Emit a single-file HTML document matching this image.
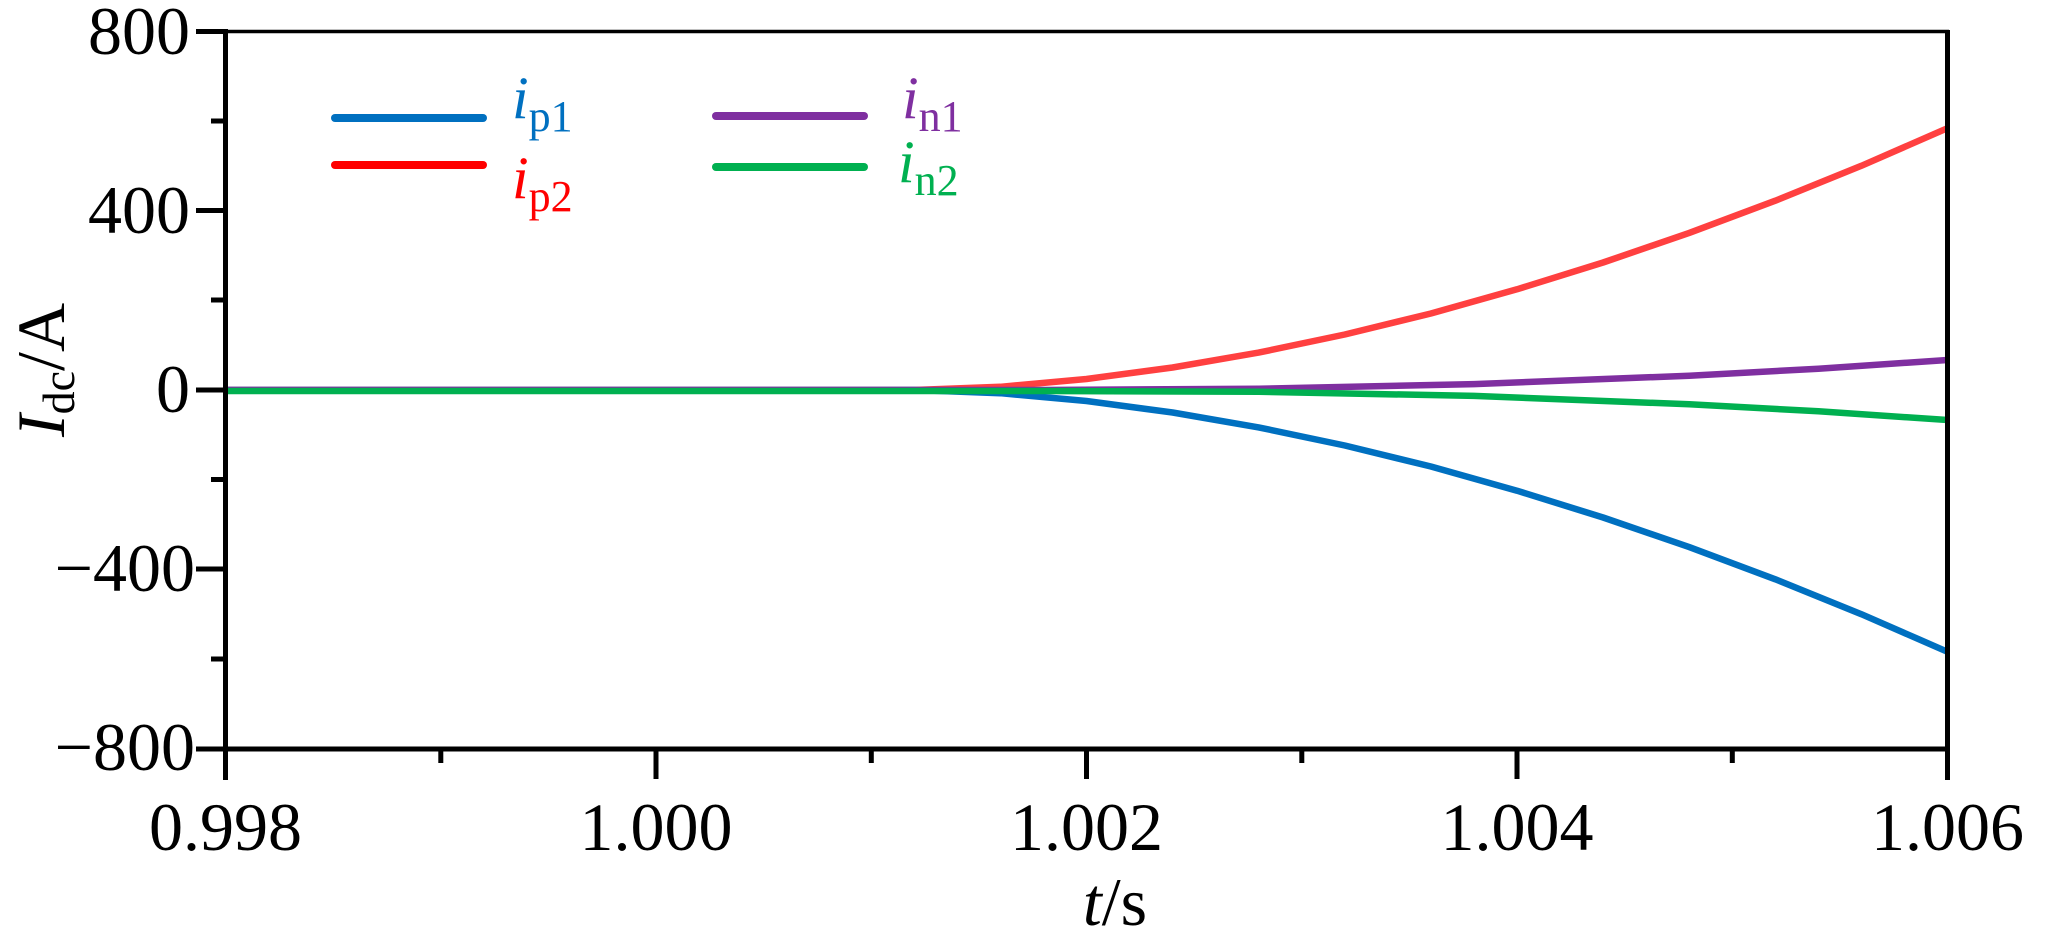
<!DOCTYPE html>
<html><head><meta charset="utf-8"><style>html,body{margin:0;padding:0;background:#fff;}svg{display:block;}text{font-family:"Liberation Serif","Times New Roman",serif;}</style></head>
<body>
<svg width="2068" height="943" viewBox="0 0 2068 943" xmlns="http://www.w3.org/2000/svg">
<rect width="2068" height="943" fill="#fff"/>
<g fill="none" stroke-width="6.5" stroke-linejoin="round">
<path stroke="#FF4040" d="M225.5,390 L914.3,390 L1000.4,386.8 L1086.5,379.0 L1172.6,367.5 L1258.7,352.6 L1344.8,334.5 L1430.9,313.5 L1517,289.3 L1603.1,262.5 L1689.2,232.9 L1775.3,200.7 L1861.4,165.8 L1947.5,128.2"/>
<path stroke="#0070C0" d="M225.5,390 L914.3,390 L1000.4,393.2 L1086.5,401.0 L1172.6,412.5 L1258.7,427.4 L1344.8,445.5 L1430.9,466.5 L1517,490.7 L1603.1,517.5 L1689.2,547.1 L1775.3,579.3 L1861.4,614.2 L1947.5,651.8"/>
<path stroke="#7F2FA0" d="M225.5,390 L1043.5,390 L1258.8,388.7 L1474,384.1 L1689.3,375.7 L1818.4,368.7 L1947.5,360"/>
<path stroke="#00B050" d="M225.5,391 L1043.5,391 L1258.8,391.8 L1474,395.9 L1689.3,404.3 L1818.4,411.3 L1947.5,420"/>
</g>
<g stroke="#000" fill="none">
<line x1="196" y1="31.5" x2="1949" y2="31.5" stroke-width="3.5"/>
<line x1="225.5" y1="29" x2="225.5" y2="780" stroke-width="5"/>
<line x1="196" y1="749" x2="1950" y2="749" stroke-width="5"/>
<line x1="1947.5" y1="30" x2="1947.5" y2="780" stroke-width="5"/>
<line x1="196" y1="31.5" x2="226" y2="31.5" stroke-width="5"/>
<line x1="196" y1="210.5" x2="226" y2="210.5" stroke-width="5"/>
<line x1="196" y1="390" x2="226" y2="390" stroke-width="5"/>
<line x1="196" y1="569" x2="226" y2="569" stroke-width="5"/>
<line x1="211" y1="121" x2="226" y2="121" stroke-width="5"/>
<line x1="211" y1="300" x2="226" y2="300" stroke-width="5"/>
<line x1="211" y1="479.5" x2="226" y2="479.5" stroke-width="5"/>
<line x1="211" y1="659" x2="226" y2="659" stroke-width="5"/>
<line x1="656" y1="749" x2="656" y2="779" stroke-width="5"/>
<line x1="1086.5" y1="749" x2="1086.5" y2="779" stroke-width="5"/>
<line x1="1517" y1="749" x2="1517" y2="779" stroke-width="5"/>
<line x1="440.8" y1="749" x2="440.8" y2="763" stroke-width="5"/>
<line x1="871.3" y1="749" x2="871.3" y2="763" stroke-width="5"/>
<line x1="1301.8" y1="749" x2="1301.8" y2="763" stroke-width="5"/>
<line x1="1732.3" y1="749" x2="1732.3" y2="763" stroke-width="5"/>
</g>
<g font-size="68" fill="#000" text-anchor="end">
<text x="190" y="54">800</text>
<text x="190" y="233">400</text>
<text x="190" y="412">0</text>
<text x="195" y="591">−400</text>
<text x="195" y="770">−800</text>
</g>
<g font-size="68" fill="#000" text-anchor="middle">
<text x="225.5" y="850">0.998</text>
<text x="656" y="850">1.000</text>
<text x="1086.5" y="850">1.002</text>
<text x="1517" y="850">1.004</text>
<text x="1947.5" y="850">1.006</text>
</g>
<text x="1115" y="925" font-size="68" text-anchor="middle"><tspan font-style="italic">t</tspan>/s</text>
<text transform="translate(64,370) rotate(-90)" font-size="68" text-anchor="middle"><tspan font-style="italic">I</tspan><tspan font-size="46" dy="10">dc</tspan><tspan dy="-10">/A</tspan></text>
<g stroke-width="8" stroke-linecap="round">
<line x1="335" y1="118" x2="483" y2="118" stroke="#0070C0"/>
<line x1="335" y1="165" x2="483" y2="165" stroke="#FF0000"/>
<line x1="716" y1="116" x2="864" y2="116" stroke="#7F2FA0"/>
<line x1="716" y1="167" x2="864" y2="167" stroke="#00B050"/>
</g>
<g font-size="60">
<text x="512" y="118" fill="#0070C0"><tspan font-style="italic">i</tspan><tspan font-size="44" dy="13">p1</tspan></text>
<text x="512" y="198" fill="#FF0000"><tspan font-style="italic">i</tspan><tspan font-size="44" dy="13">p2</tspan></text>
<text x="902" y="118" fill="#7F2FA0"><tspan font-style="italic">i</tspan><tspan font-size="44" dy="13">n1</tspan></text>
<text x="898" y="182" fill="#00B050"><tspan font-style="italic">i</tspan><tspan font-size="44" dy="13">n2</tspan></text>
</g>
</svg>
</body></html>
